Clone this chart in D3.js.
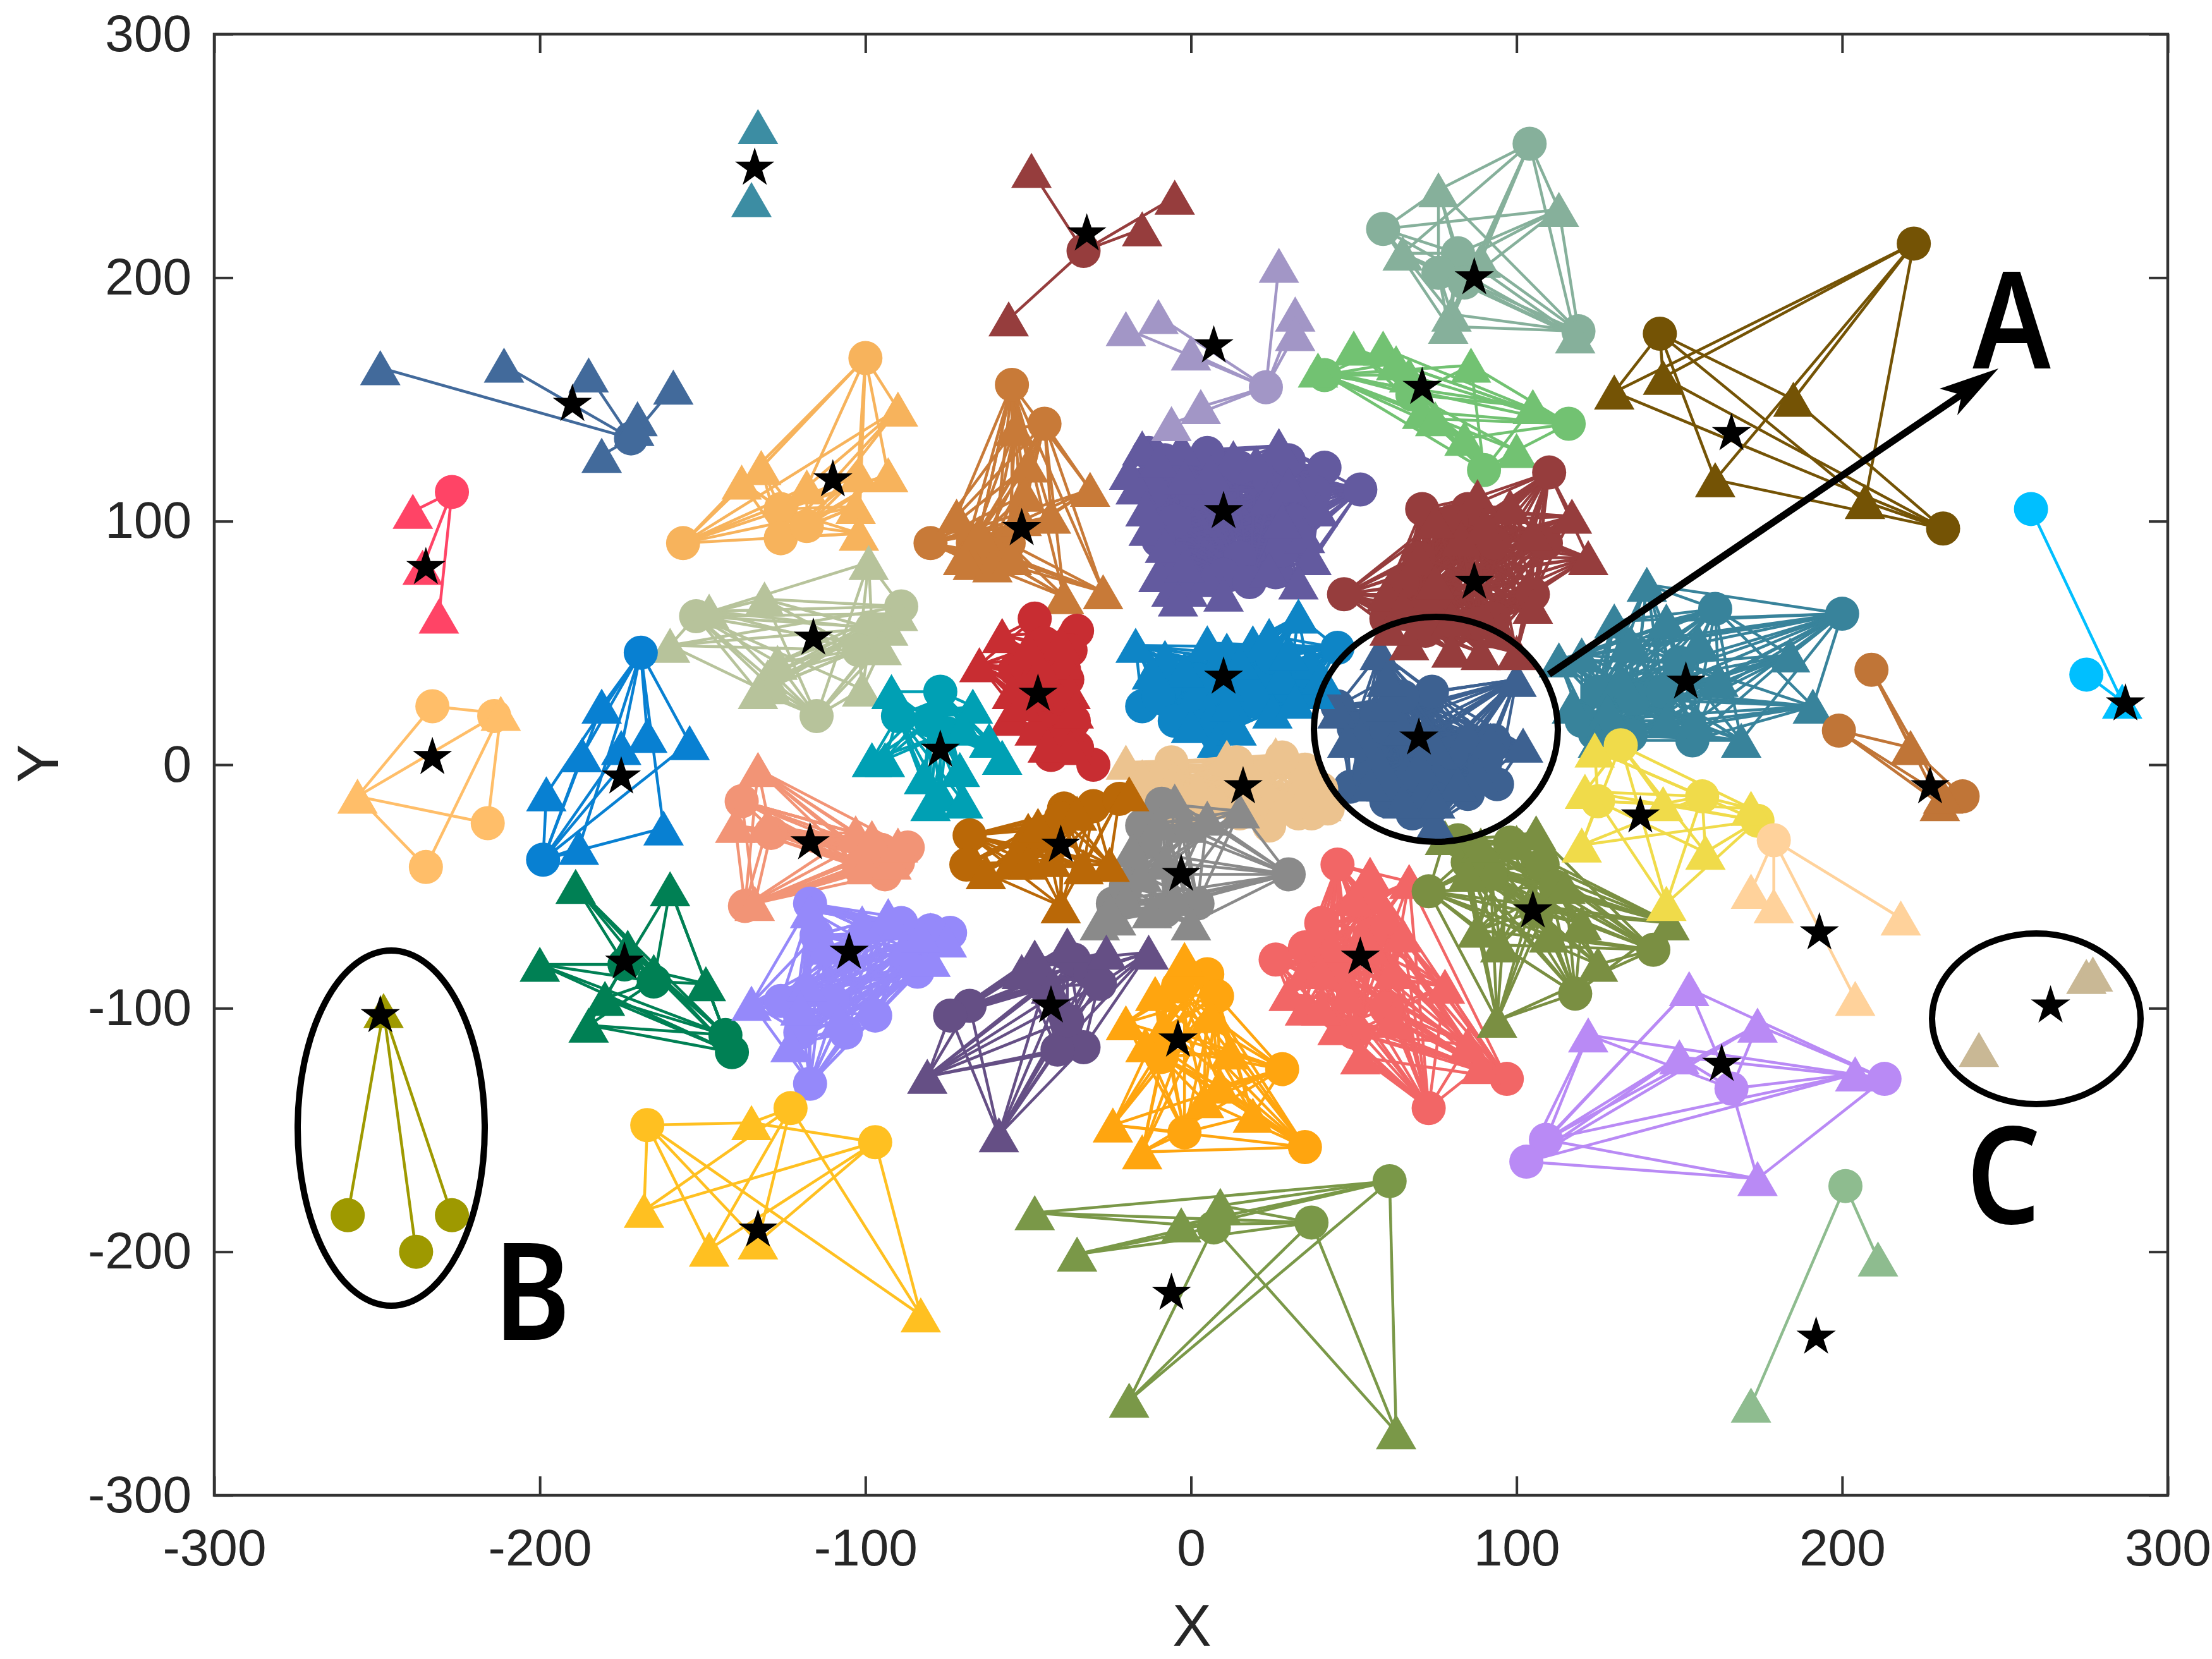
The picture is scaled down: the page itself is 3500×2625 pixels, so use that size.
<!DOCTYPE html>
<html><head><meta charset="utf-8">
<script src="https://cdn.jsdelivr.net/npm/d3@7"></script>
<style>html,body{margin:0;padding:0;background:#fff}svg{display:block}</style></head>
<body><svg id="c" width="3500" height="2625"></svg>
<script>
const xTickValues=[-300,-200,-100,0,100,200,300];
const yTickValues=[-300,-200,-100,0,100,200,300];
const starPoints=[[-134,245],[-190,148],[-235,81],[-110,117],[-116,52],[-52,97],[-32,218],[87,200],[10,104],[7,172],[71,155],[52,-79],[105,-60],[70,11],[87,75],[166,136],[287,25],[10,36],[16,-9],[-3,-45],[152,34],[-47,29],[-77,6],[-233,3],[-175,-5],[-117,-32],[-174,-81],[-105,-77],[-40,-33],[-43,-99],[-4,-113],[138,-21],[193,-69],[163,-123],[264,-99],[-6,-217],[-133,-191],[-249,-103],[192,-235],[227,-9]];
const circles0=[];
const triangles0=[[-133,262],[-135,232]];
const circles1=[[-172,134]];
const triangles1=[[-249,163],[-211,164],[-185,160],[-170,142],[-159,155],[-181,127],[-171,138]];
const circles2=[[-227,112]];
const triangles2=[[-239,104],[-236,81],[-231,61]];
const circles3=[[-100,167],[-156,91],[-126,105],[-126,93],[-118,98]];
const triangles3=[[-90,146],[-132,122],[-138,116],[-118,114],[-102,119],[-93,119],[-103,106],[-102,95]];
const circles4=[[-152,61],[-89,65],[-98,56],[-115,20],[-102,47]];
const triangles4=[[-160,49],[-131,68],[-148,63],[-99,83],[-90,62],[-93,56],[-130,36],[-127,42],[-129,32],[-101,31],[-95,48],[-133,30]];
const circles5=[[-55,156],[-45,140],[-80,91],[-67,91],[-56,91],[-62,87]];
const triangles5=[[-31,113],[-72,102],[-27,71],[-39,69],[-50,123],[-51,111],[-52,101],[-67,83],[-61,82],[-43,102],[-54,138],[-55,85],[-70,85],[-65,95]];
const circles6=[[-33,211]];
const triangles6=[[-49,244],[-5,233],[-15,220],[-56,183]];
const circles7=[[104,255],[59,220],[82,210],[76,202],[84,198],[119,178]];
const triangles7=[[76,236],[113,228],[65,210],[89,207],[80,185],[79,180],[118,176]];
const circles8=[[41,122],[52,113],[-13,128],[26,79],[15,85],[32,100],[24,117],[2,112],[15,122],[-5,100],[-8,125],[5,128],[30,125],[-12,112],[-5,85],[10,78],[28,88],[38,112],[-10,92],[18,75]];
const triangles8=[[-15,130],[-3,130],[13,126],[27,131],[-17,114],[-13,97],[39,105],[35,94],[37,85],[-6,79],[0,79],[-1,72],[5,76],[-6,72],[-19,120],[7,113],[24,110],[-10,125],[6,120],[20,124],[-14,105],[-2,118],[30,115],[28,100],[-8,90],[24,80],[-10,78],[-2,82],[10,70],[-4,68],[33,75]];
const circles9=[[23,155]];
const triangles9=[[27,205],[32,185],[32,177],[0,169],[-20,179],[-10,184],[3,147],[-6,140]];
const circles10=[[41,160],[68,152],[116,140],[90,121]];
const triangles10=[[50,171],[59,171],[39,162],[67,160],[86,164],[105,147],[84,134],[100,129],[71,145],[63,165],[75,142]];
const circles11=[[45,-41],[26,-80],[97,-129],[73,-141],[45,-85],[60,-100],[55,-70],[40,-65],[50,-110],[35,-75],[55,-55]];
const triangles11=[[67,-48],[50,-55],[43,-74],[30,-94],[52,-120],[89,-124],[78,-91],[62,-85],[48,-95],[60,-62],[35,-85],[55,-75],[40,-85],[65,-70],[35,-100],[45,-108],[62,-105],[55,-45],[40,-100],[85,-115]];
const circles12=[[73,-52],[82,-31],[98,-32],[108,-41],[142,-76],[118,-94],[106,-60],[92,-45],[85,-40],[112,-50]];
const triangles12=[[94,-105],[147,-65],[125,-82],[95,-74],[100,-32],[106,-28],[89,-33],[78,-30],[110,-70],[85,-45],[115,-50],[120,-65],[88,-68]];
const circles13=[[49,-9],[94,-8],[45,24],[93,10],[74,30],[60,-15],[68,10],[55,5],[78,-5],[65,28],[75,-14],[50,15],[57,20],[90,0],[65,-10],[85,-12],[60,15],[70,-5],[55,-5],[80,5],[68,-20]];
const triangles13=[[58,46],[100,35],[45,22],[102,8],[75,-24],[66,-3],[52,12],[75,7],[85,12],[60,-8],[72,-10],[88,-4],[60,25],[60,35],[65,15],[58,0],[70,0],[82,-8],[75,-15],[65,-15],[55,-8],[92,10],[48,10]];
const circles14=[[110,120],[71,105],[47,70],[109,91],[93,91],[93,60],[76,66],[85,105],[70,85],[80,100],[65,75],[60,60],[72,55],[105,70],[88,58]];
const triangles14=[[88,110],[117,102],[122,85],[67,50],[80,47],[89,46],[100,46],[61,56],[98,106],[83,93],[72,70],[105,65],[60,70],[75,100],[90,98],[105,95],[70,85],[80,60],[65,65],[95,55],[75,75]];
const circles15=[[45,48],[-15,24],[0,21],[4,16],[15,30],[24,36],[10,40],[-8,32],[-10,28],[2,35],[12,20],[20,26],[30,32],[36,38],[-5,18],[8,12],[25,44]];
const triangles15=[[-17,49],[-8,44],[11,47],[19,50],[24,53],[33,61],[37,42],[6,19],[0,16],[28,36],[2,30],[19,33],[-2,39],[25,22],[12,25],[-12,38],[5,50],[15,42],[30,46],[38,30],[32,26],[10,33],[8,10],[14,15],[40,36]];
const circles16=[[-6,1],[35,-2],[24,-25],[39,-16],[-13,-10],[6,-16],[19,-5],[32,-16],[-4,-15],[14,1],[22,-14],[-8,-5],[28,3],[15,-20],[40,-10],[2,-18],[33,-20],[37,-20],[42,-18]];
const triangles16=[[-20,1],[11,3],[26,4],[2,-10],[32,-13],[-6,-7],[40,-16],[-12,-14],[18,-12],[28,-17],[36,-10],[-15,-5],[-8,-17],[-3,-18]];
const circles17=[[30,-45],[-9,-16],[-24,-57],[2,-57],[-14,-32],[-20,-50],[-15,-25],[-8,-60]];
const triangles17=[[-23,-63],[-15,-45],[0,-65],[15,-19],[-2,-25],[5,-22],[-28,-65],[-10,-24],[-8,-40],[-20,-55],[-12,-60],[-5,-55],[-18,-35],[-5,-15],[-25,-60]];
const circles18=[[200,62],[161,64],[124,13],[154,10],[136,27],[145,30],[120,18],[135,12],[125,30],[150,42]];
const triangles18=[[113,43],[140,74],[146,59],[130,59],[117,24],[191,24],[184,45],[169,10],[162,35],[132,35],[146,18],[128,22],[156,50],[120,45],[135,50],[155,18],[125,10]];
const circles19=[[-48,60],[-35,55],[-37,47],[-30,0],[-43,4],[-54,39],[-39,39],[-35,7],[-50,25],[-40,25],[-45,50],[-38,35],[-45,15],[-36,18],[-47,35],[-40,10]];
const triangles19=[[-58,53],[-65,41],[-39,42],[-37,30],[-39,16],[-56,19],[-37,7],[-48,15],[-46,40],[-55,30],[-48,30],[-52,25],[-40,50],[-50,48],[-36,22],[-44,8]];
const circles20=[[-90,20],[-77,30],[-80,18],[-75,13]];
const triangles20=[[-92,30],[-77,27],[-67,24],[-98,2],[-94,2],[-58,3],[-80,-16],[-77,-12],[-71,-2],[-82,-5],[-70,15],[-70,-15],[-62,10]];
const circles21=[[-233,24],[-214,20],[-216,-24],[-235,-42]];
const triangles21=[[-256,-13],[-212,21]];
const circles22=[[-169,46],[-199,-39]];
const triangles22=[[-181,24],[-154,9],[-187,4],[-198,-12],[-167,12],[-175,7],[-188,-34],[-162,-26]];
const circles23=[[-138,-15],[-87,-34],[-137,-58],[-129,-28],[-100,-37],[-94,-45],[-102,-42],[-95,-35],[-90,-40]];
const triangles23=[[-133,-2],[-140,-25],[-130,-25],[-103,-28],[-134,-57],[-96,-35],[-100,-42],[-92,-40],[-90,-33],[-98,-30]];
const circles24=[[-143,-111],[-141,-118],[-165,-89],[-174,-82]];
const triangles24=[[-189,-50],[-160,-51],[-200,-82],[-173,-75],[-180,-96],[-185,-107],[-165,-85],[-149,-90]];
const circles25=[[-117,-57],[-74,-69],[-80,-68],[-117,-131],[-89,-65],[-126,-97],[-97,-103],[-110,-97],[-84,-85],[-115,-70],[-120,-110],[-106,-110]];
const triangles25=[[-135,-98],[-117,-60],[-101,-65],[-93,-62],[-80,-68],[-123,-115],[-80,-80],[-112,-75],[-118,-90],[-108,-105],[-88,-75],[-120,-100],[-75,-72],[-83,-70]];
const circles26=[[-68,-29],[-69,-41],[-39,-18],[-30,-17],[-50,-33],[-22,-14],[-45,-28],[-40,-22]];
const triangles26=[[-19,-12],[-25,-41],[-40,-58],[-63,-44],[-50,-27],[-43,-39],[-47,-25],[-55,-40],[-35,-20],[-50,-40],[-33,-42]];
const circles27=[[-68,-99],[-74,-103],[-33,-116],[-41,-117],[-45,-91],[-36,-80],[-31,-85],[-38,-105],[-28,-90]];
const triangles27=[[-81,-128],[-59,-152],[-48,-79],[-38,-74],[-26,-77],[-13,-77],[-43,-91],[-52,-85]];
const circles28=[[5,-86],[28,-125],[35,-157],[-2,-151],[-4,-91],[-9,-120],[8,-95]];
const triangles28=[[-2,-80],[-20,-106],[-11,-94],[-24,-148],[-15,-159],[6,-103],[9,-132],[4,-138],[19,-144],[-8,-108],[-14,-115],[12,-118]];
const circles29=[[125,-15],[132,8],[157,-13],[174,-23]];
const triangles29=[[124,6],[121,-11],[120,-33],[158,-36],[146,-57],[172,-18],[145,-16]];
const circles30=[[179,-31]];
const triangles30=[[172,-52],[179,-58],[204,-96],[218,-63]];
const circles31=[[213,-129],[166,-133],[109,-154],[103,-163]];
const triangles31=[[122,-111],[153,-92],[150,-120],[174,-107],[174,-170],[204,-127]];
const circles32=[];
const triangles32=[[275,-87],[277,-86],[242,-117]];
const circles33=[[61,-171],[37,-188],[7,-190]];
const triangles33=[[-48,-184],[-35,-201],[-19,-261],[63,-274],[9,-181],[-3,-189]];
const circles34=[[-167,-148],[-123,-141],[-97,-155]];
const triangles34=[[-135,-147],[-168,-183],[-148,-199],[-133,-196],[-83,-226]];
const circles35=[[-259,-185],[-238,-200],[-227,-185]];
const triangles35=[[-248,-101]];
const circles36=[[201,-173]];
const triangles36=[[211,-203],[172,-263]];
const circles37=[[209,39],[199,14],[237,-13]];
const triangles37=[[221,7],[230,-16],[231,-13]];
const circles38=[[258,105],[275,37]];
const triangles38=[[286,26]];
const circles39=[[222,214],[144,177],[231,97]];
const triangles39=[[130,153],[145,159],[185,150],[161,117],[207,108]];
const circleSets=[circles0,circles1,circles2,circles3,circles4,circles5,circles6,circles7,circles8,circles9,circles10,circles11,circles12,circles13,circles14,circles15,circles16,circles17,circles18,circles19,circles20,circles21,circles22,circles23,circles24,circles25,circles26,circles27,circles28,circles29,circles30,circles31,circles32,circles33,circles34,circles35,circles36,circles37,circles38,circles39];
const triangleSets=[triangles0,triangles1,triangles2,triangles3,triangles4,triangles5,triangles6,triangles7,triangles8,triangles9,triangles10,triangles11,triangles12,triangles13,triangles14,triangles15,triangles16,triangles17,triangles18,triangles19,triangles20,triangles21,triangles22,triangles23,triangles24,triangles25,triangles26,triangles27,triangles28,triangles29,triangles30,triangles31,triangles32,triangles33,triangles34,triangles35,triangles36,triangles37,triangles38,triangles39];
const setColors=["#3C8DA3","#426A9B","#FF4466","#F7B35C","#B7C39B","#C87A38","#963D3D","#86B09B","#635A9F","#A296C6","#72C272","#F26666","#7A8F42","#3D6191","#963D3D","#0E85C6","#ECC38F","#8A8A8A","#38839B","#C82D32","#00A0B4","#FFBE69","#0880D2","#F29476","#008054","#9589FA","#BA6807","#654F85","#FFA50F","#F0DB4A","#FFD29B","#B98AF5","#C9B895","#7A9848","#FFC021","#9E9900","#8EBC8F","#C07537","#00BFFF","#745305"];
const annotationLabels=["A","B","C"];

const svg=d3.select("#c");
const L=339,R=3430,T=54,B=2366;
const x=d3.scaleLinear().domain([-300,300]).range([L,R]);
const y=d3.scaleLinear().domain([-300,300]).range([B,T]);
const axisColor="#333333",textColor="#262626",tickFont="Liberation Sans, Arial, sans-serif";

const triangle=d3.symbol().type(d3.symbolTriangle).size(1780)();
const circle=d3.symbol().type(d3.symbolCircle).size(2290)();
const star=d3.symbol().type(d3.symbolStar).size(1200)();

const plot=svg.append("g");
function drawCluster(cs,ts,col){
  const g=plot.append("g");
  const pairs=d3.cross(cs,ts);
  g.selectAll("line").data(pairs).join("line")
    .attr("x1",d=>x(d[0][0])).attr("y1",d=>y(d[0][1]))
    .attr("x2",d=>x(d[1][0])).attr("y2",d=>y(d[1][1]))
    .attr("stroke",col).attr("stroke-width",4.5);
  g.selectAll("path.c").data(cs).join("path").attr("class","c").attr("d",circle)
    .attr("transform",d=>`translate(${x(d[0])},${y(d[1])})`).attr("fill",col);
  g.selectAll("path.t").data(ts).join("path").attr("class","t").attr("d",triangle)
    .attr("transform",d=>`translate(${x(d[0])},${y(d[1])+9})`).attr("fill",col);
}
circleSets.forEach((cs,i)=>drawCluster(cs,triangleSets[i],setColors[i]));

plot.append("g").selectAll("path").data(starPoints).join("path").attr("d",star)
  .attr("transform",d=>`translate(${x(d[0])},${y(d[1])})`).attr("fill","#000");

// axes
function styleAxis(g,showText){
  g.select(".domain").remove();
  g.selectAll("line").attr("stroke",axisColor).attr("stroke-width",4);
  g.selectAll("text").attr("fill",textColor).attr("font-family",tickFont).attr("font-size",82);
  if(!showText) g.selectAll("text").remove();
}
const fmt=d=>String(d);
svg.append("g").attr("transform",`translate(0,${B})`)
  .call(d3.axisBottom(x).tickValues(xTickValues).tickSize(-30).tickPadding(53).tickFormat(fmt))
  .call(g=>styleAxis(g,true));
svg.append("g").attr("transform",`translate(0,${T})`)
  .call(d3.axisTop(x).tickValues(xTickValues).tickSize(-30).tickFormat(""))
  .call(g=>styleAxis(g,false));
svg.append("g").attr("transform",`translate(${L},0)`)
  .call(d3.axisLeft(y).tickValues(yTickValues).tickSize(-30).tickPadding(36).tickFormat(fmt))
  .call(g=>styleAxis(g,true));
svg.append("g").attr("transform",`translate(${R},0)`)
  .call(d3.axisRight(y).tickValues(yTickValues).tickSize(-30).tickFormat(""))
  .call(g=>styleAxis(g,false));
svg.append("rect").attr("x",L).attr("y",T).attr("width",R-L).attr("height",B-T)
  .attr("fill","none").attr("stroke",axisColor).attr("stroke-width",4.5);

svg.append("text").attr("x",1886).attr("y",2604).attr("text-anchor","middle")
  .attr("font-family",tickFont).attr("font-size",92).attr("fill",textColor).text("X");
svg.append("text").attr("transform","translate(92,1208) rotate(-90)").attr("text-anchor","middle")
  .attr("font-family",tickFont).attr("font-size",92).attr("fill",textColor).text("Y");

// annotations
const ann=svg.append("g");
[[2272,1154,193,178],[619,1785,148,281],[3222,1612,165,135]].forEach(e=>{
  ann.append("ellipse").attr("cx",e[0]).attr("cy",e[1]).attr("rx",e[2]).attr("ry",e[3])
    .attr("fill","none").attr("stroke","#000").attr("stroke-width",10);
});
ann.append("line").attr("x1",2451).attr("y1",1067).attr("x2",3110).attr("y2",620)
  .attr("stroke","#000").attr("stroke-width",11);
ann.append("path").attr("d","M3162,583L3069,615L3104,625L3097,657Z").attr("fill","#000");
[[3183,583],[842,2120],[3170,1936]].forEach((p,i)=>{
  ann.append("text").attr("transform",`translate(${p[0]},${p[1]}) scale(0.86,1)`).attr("text-anchor","middle")
    .attr("font-family","Noto Sans, sans-serif").attr("font-weight",600).attr("font-size",214)
    .attr("fill","#000").text(annotationLabels[i]);
});
</script></body></html>
